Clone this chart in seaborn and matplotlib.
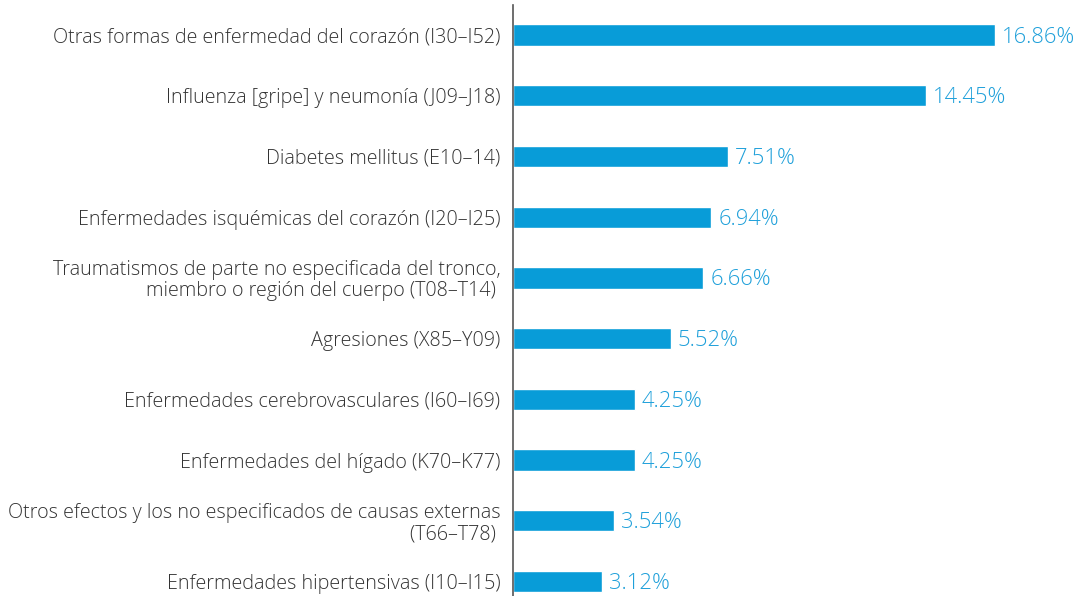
import matplotlib
matplotlib.use("Agg")
import matplotlib.pyplot as plt
import seaborn as sns
import pandas as pd

categories = [
    "Otras formas de enfermedad del corazón (I30–I52)",
    "Influenza [gripe] y neumonía (J09–J18)",
    "Diabetes mellitus (E10–14)",
    "Enfermedades isquémicas del corazón (I20–I25)",
    "Traumatismos de parte no especificada del tronco,\nmiembro o región del cuerpo (T08–T14) ",
    "Agresiones (X85–Y09)",
    "Enfermedades cerebrovasculares (I60–I69)",
    "Enfermedades del hígado (K70–K77)",
    "Otros efectos y los no especificados de causas externas\n(T66–T78) ",
    "Enfermedades hipertensivas (I10–I15)",
]
values = [16.86, 14.45, 7.51, 6.94, 6.66, 5.52, 4.25, 4.25, 3.54, 3.12]
value_labels = ["16.86%", "14.45%", "7.51%", "6.94%", "6.66%", "5.52%", "4.25%", "4.25%", "3.54%", "3.12%"]

sns.set_theme(style="white")
plt.rcParams['font.family'] = ['Open Sans', 'DejaVu Sans']

W, H = 1075, 596
fig = plt.figure(figsize=(W / 100, H / 100), dpi=100)
ax = fig.add_axes([513 / W, 0, (W - 513) / W, 591 / H])

df = pd.DataFrame({"cat": categories, "val": values})
bar_color = "#089CD8"
sns.barplot(data=df, x="val", y="cat", orient="h", color=bar_color, width=0.35,
            saturation=1, ax=ax)

ax.set_xlim(0, (W - 513) / 28.6)
ax.set_ylim(9.239, -0.494)
ax.set_xlabel("")
ax.set_ylabel("")
ax.set_xticks([])
for s in ["top", "right", "bottom"]:
    ax.spines[s].set_visible(False)
ax.spines["left"].set_color("#555555")
ax.spines["left"].set_linewidth(1.2)
ax.tick_params(axis="y", length=0, pad=9, labelsize=14.2, labelcolor="#333333")
for t in ax.get_yticklabels():
    t.set_fontweight("light")
    t.set_linespacing(1.07)

for i, (v, lab) in enumerate(zip(values, value_labels)):
    ax.annotate(lab, xy=(v, i), xytext=(5, -1.5), textcoords="offset points",
                va="center", ha="left", fontsize=15.8, color="#1FA0DA",
                fontweight="light")

fig.savefig("out.png", dpi=100)
